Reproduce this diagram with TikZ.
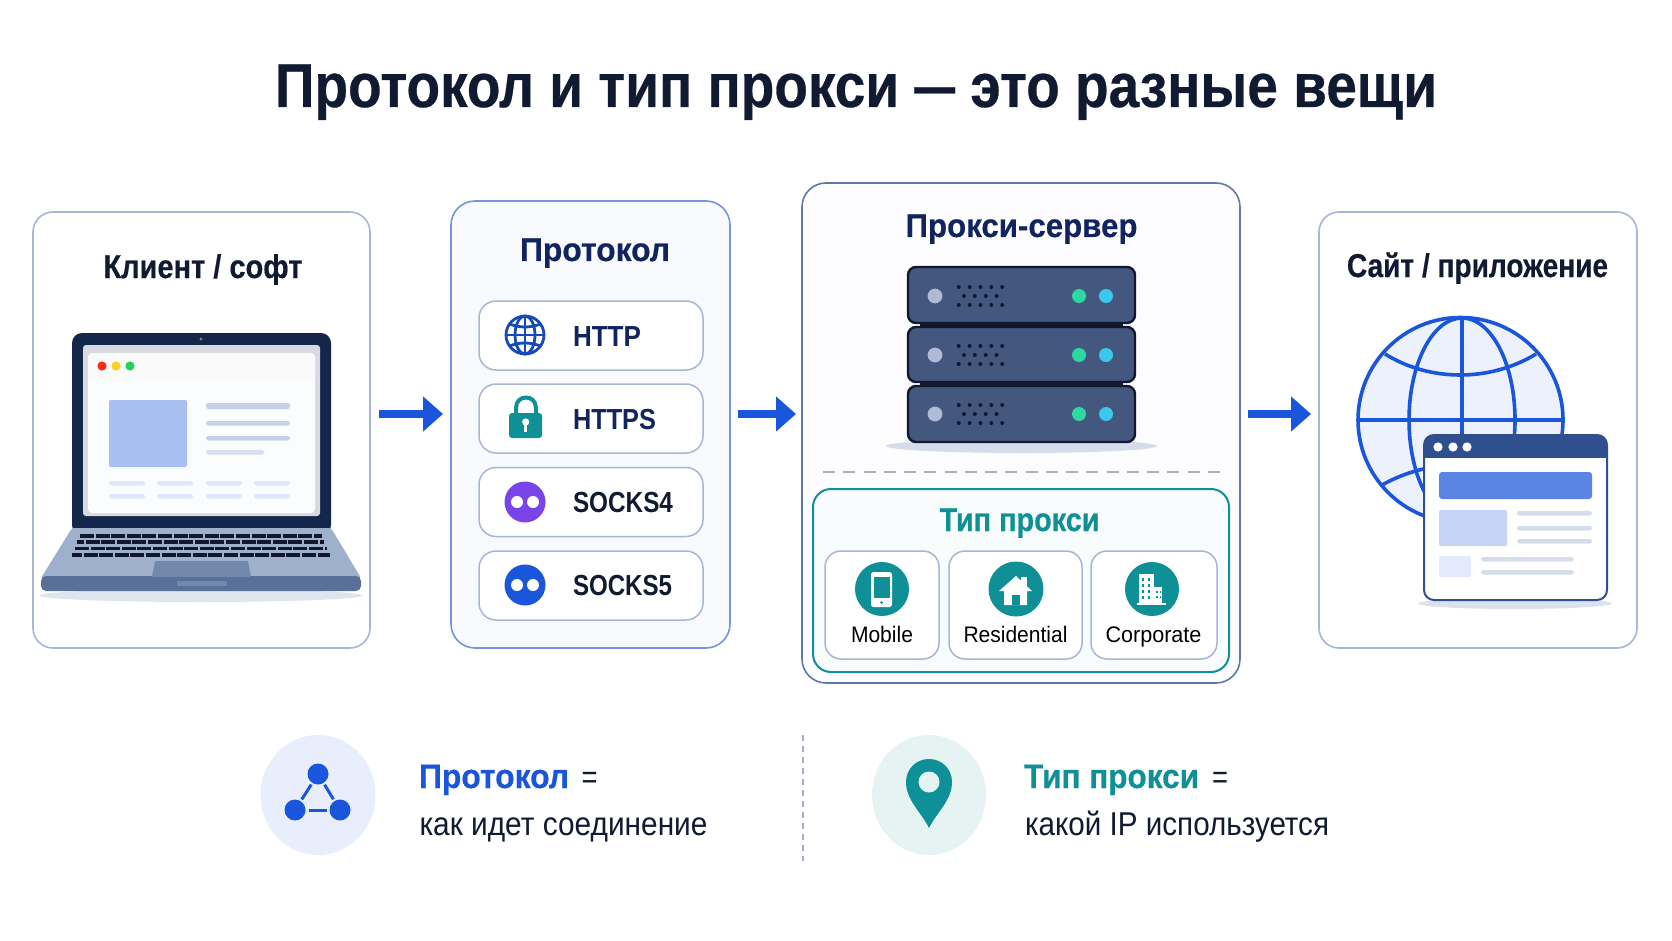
\documentclass[tikz,border=0pt]{standalone}
\usepackage{fontspec}
\usepackage{graphicx}
\setmainfont{Liberation Sans}
\usetikzlibrary{arrows.meta,shapes.geometric}
\definecolor{ink}{HTML}{101A30}
\definecolor{navy}{HTML}{12245F}
\definecolor{blue}{HTML}{1A56DB}
\definecolor{teal}{HTML}{0F8F96}
\definecolor{edge}{HTML}{A8B6D6}
\definecolor{lid}{HTML}{14264A}
\definecolor{rack}{HTML}{44587F}
\definecolor{rackdark}{HTML}{11182E}
\definecolor{deck}{HTML}{9FB0CC}
\definecolor{deckdark}{HTML}{5A7099}
\definecolor{pad}{HTML}{7288AD}
\definecolor{winbar}{HTML}{2F4F8F}
\definecolor{skelline}{HTML}{D5DCEA}
\definecolor{ledgreen}{HTML}{2FD8A0}
\definecolor{ledcyan}{HTML}{3CC8EE}
\definecolor{ledgrey}{HTML}{B0BAD6}
\definecolor{socksviolet}{HTML}{7A45E8}
\newcommand\hv{\bfseries\addfontfeature{FakeBold=0.5}}
% Text of a given size, stretched sideways to a set width.
\newcommand\lbl[7]{\node[inner sep=0pt,anchor=base,text=#1,font=\fontsize{#6}{#6}\selectfont#2] (#3) at (#4) {\resizebox{#5pt}{\height}{#7}};}
\tikzset{
  x=1pt,y=-1pt,
  card/.style={draw=edge,line width=1.6pt,rounded corners=20pt,fill=white,inner sep=0pt,outer sep=0pt},
  rowbox/.style={draw=edge,line width=1.5pt,rounded corners=17pt,fill=white,inner sep=0pt,outer sep=0pt,minimum width=224pt,minimum height=69pt},
  typebox/.style={draw=edge,line width=1.5pt,rounded corners=16pt,fill=white,inner sep=0pt,outer sep=0pt,minimum height=108pt},
  flow/.style={draw=blue,line width=8pt,-{Triangle[length=20pt,width=34pt]}},
  bubble/.style={circle,inner sep=0pt,outer sep=0pt},
  hub/.style={bubble,fill=blue,minimum size=21pt},
  link/.style={draw=blue,line width=3pt},
  skel/.style={fill=#1,rounded corners=1.8pt},
  led/.style={fill=#1},
  hole/.style={fill=rackdark},
  keyrow/.style={draw=rackdark,line width=3.8pt,dash pattern=on 14pt off 1.6pt},
}
\begin{document}
\begin{tikzpicture}
\useasboundingbox (0,0) rectangle (1672,941);
\fill[white] (0,0) rectangle (1672,941);

% heading, with a shortened dash
\lbl{ink}{\hv}{heading}{856,107}{1162}{62}{Протокол и тип прокси \resizebox{46pt}{\height}{—} это разные вещи}

% outer cards
\node[card,minimum width=337pt,minimum height=436pt] (client) at (201.5,430) {};
\node[card,draw=blue!35!edge,fill=blue!3,rounded corners=24pt,minimum width=279pt,minimum height=447pt] (proto) at (590.5,424.5) {};
\node[card,draw=winbar!60!edge,fill=blue!1,rounded corners=24pt,minimum width=438pt,minimum height=500pt] (proxy) at (1021,433) {};
\node[card,minimum width=318pt,minimum height=436pt] (site) at (1478,430) {};

% flow arrows
\draw[flow,shorten <=9pt,shorten >=8pt] ([yshift=16pt]client.east) -- ([yshift=16pt]client.east -| proto.west);
\draw[flow,shorten <=8pt,shorten >=6pt] ([yshift=10.5pt]proto.east) -- ([yshift=10.5pt]proto.east -| proxy.west);
\draw[flow,shorten <=8pt,shorten >=8pt] ([yshift=19pt]proxy.east) -- ([yshift=19pt]proxy.east -| site.west);

% client card
\lbl{ink}{\hv}{clienttitle}{203,278}{199}{33}{Клиент / софт}
\fill[skelline!75!white] (201,595.5) ellipse[x radius=161.5pt,y radius=6.5pt];
\fill[lid,rounded corners=10pt] (72,535) -- (72,333) -- (331,333) -- (331,535) -- cycle;
\fill[blue!15!gray!28!white,rounded corners=3pt] (83,345) rectangle (320,516);
\fill[blue!2,rounded corners=4pt] (88,353) rectangle (315,513);
\fill[blue!9!gray!4!white,rounded corners=4pt] (88,353) rectangle (315,380);
\fill[gray] (201,339) circle[radius=1.6pt];
\fill[red!85!orange!90!white] (102,366) circle[radius=4.6pt];
\fill[yellow!65!orange!90!white] (116,366) circle[radius=4.6pt];
\fill[green!55!teal!90!white] (130,366) circle[radius=4.6pt];
\fill[blue!38!white,rounded corners=2pt] (109,400) rectangle (187,467);
\fill[skel=gray!40!blue!30] (206,403) rectangle (290,409);
\fill[skel=gray!40!blue!30] (206,421) rectangle (290,425.5);
\fill[skel=gray!40!blue!30] (206,436) rectangle (290,440.5);
\fill[skel=gray!40!blue!22] (206,450) rectangle (264,454.5);
\foreach \xa/\xb in {109/145,157/193,206/242,254/290}{
  \fill[skel=blue!14] (\xa,481) rectangle (\xb,485.5);
  \fill[skel=blue!14] (\xa,494) rectangle (\xb,498.5);
}
% laptop base and keyboard
\fill[deck,rounded corners=2pt] (72,528) -- (331,528) -- (361,578) -- (41,578) -- cycle;
\fill[deckdark,rounded corners=5pt] (41,576) rectangle (361,591);
\fill[pad] (177,581) rectangle (227,586);
\draw[keyrow] (80,536) -- (322,536);
\draw[keyrow,dash phase=7pt] (77,542) -- (324,542);
\draw[keyrow] (75,548.5) -- (327,548.5);
\draw[keyrow,dash phase=4pt] (72,555) -- (330,555);
\fill[pad,rounded corners=1pt] (155,561) -- (248,561) -- (251,577) -- (152,577) -- cycle;

% protocol card
\lbl{navy}{\hv}{prototitle}{595,261}{150}{33}{Протокол}
\node[rowbox] (r1) at (591,335.5) {};
\node[rowbox] (r2) at (591,418.5) {};
\node[rowbox] (r3) at (591,502) {};
\node[rowbox] (r4) at (591,585.5) {};
\begin{scope}[draw=blue!85!black,line width=2.8pt]
  \draw (525,335) circle[radius=19pt];
  \draw (525,335) ellipse[x radius=10pt,y radius=19pt];
  \draw (525,316) -- (525,354);
  \draw (506,335) -- (544,335);
  \draw (509.5,324) .. controls (520,328) and (530,328) .. (540.5,324);
  \draw (509.5,346) .. controls (520,342) and (530,342) .. (540.5,346);
\end{scope}
\draw[teal,line width=4pt] (516,415) -- (516,408) .. controls (516,394) and (536,394) .. (536,408) -- (536,415);
\fill[teal,rounded corners=3pt] (509,413) rectangle (542,438);
\fill[white] (525.7,422) circle[radius=3.6pt];
\fill[white] (524,422) rectangle (527.4,432);
\node[bubble,fill=socksviolet,minimum size=41pt] (s4) at (525,502) {};
\fill[white] (517,502) circle[radius=6pt] (533,502) circle[radius=6pt];
\node[bubble,fill=blue,minimum size=41pt] (s5) at (525,585) {};
\fill[white] (517,585) circle[radius=6pt] (533,585) circle[radius=6pt];
\lbl{navy}{\bfseries}{http}{607,346}{68}{29}{HTTP}
\lbl{navy}{\bfseries}{https}{614.5,429}{83}{29}{HTTPS}
\lbl{ink}{\bfseries}{socksfour}{623,512}{100}{29}{SOCKS4}
\lbl{ink}{\bfseries}{socksfive}{622.5,595}{99}{29}{SOCKS5}

% proxy server card
\lbl{navy}{\hv}{proxytitle}{1021.5,237}{232}{33}{Прокси-сервер}
\fill[skelline] (1021.5,446) ellipse[x radius=135.5pt,y radius=7pt];
\fill[rackdark] (920,318) rectangle (1123,392);
\foreach \yt/\yb/\yc in {267/323/296,327/382/355,386/442/414}{
  \draw[rackdark,fill=rack,line width=2.4pt,rounded corners=8pt] (908,\yt) rectangle (1135,\yb);
  \fill[ledgrey] (935,\yc) circle[radius=7.4pt];
  \fill[led=ledgreen] (1079,\yc) circle[radius=7pt];
  \fill[led=ledcyan] (1106,\yc) circle[radius=7pt];
  \foreach \dx in {958.7,969.6,980.4,991.3,1002.2}{
    \fill[hole] (\dx,\yc-9) circle[radius=2pt];
    \fill[hole] (\dx,\yc+9) circle[radius=2pt];
  }
  \foreach \dx in {964,974.8,985.7,996.6}{
    \fill[hole] (\dx,\yc) circle[radius=2pt];
  }
}
\draw[blue!12!gray!60!white,line width=1.6pt,dash pattern=on 12pt off 8.26pt] (823,472) -- (1220,472);

% proxy type panel
\node[card,draw=teal,fill=teal!3,rounded corners=18pt,line width=2pt,minimum width=416pt,minimum height=183pt] (types) at (1021,580.5) {};
\lbl{teal}{\hv}{typetitle}{1019.5,531}{160}{33}{Тип прокси}
\node[typebox,minimum width=114pt] (tmobile) at (882,605) {};
\node[typebox,minimum width=133pt] (tresid) at (1015.5,605) {};
\node[typebox,minimum width=126pt] (tcorp) at (1154,605) {};
\node[bubble,fill=teal,minimum size=54pt] (imobile) at (882,589) {};
\node[bubble,fill=teal,minimum size=55pt] (iresid) at (1016,589) {};
\node[bubble,fill=teal,minimum size=54pt] (icorp) at (1152,589) {};
% phone
\fill[white,rounded corners=2.5pt] (871,572) rectangle (892,607);
\fill[teal] (873.5,577) rectangle (889.5,598);
\fill[teal] (881.5,602.5) circle[radius=1.5pt];
% house
\fill[white] (1021,577) rectangle (1026.5,587);
\fill[white] (1016,576) -- (1032,591) -- (1027,591) -- (1027,605) -- (1004,605) -- (1004,591) -- (999,591) -- cycle;
\fill[teal] (1012,595) rectangle (1020,605);
% office blocks
\fill[white] (1139,574) rectangle (1154,604);
\fill[white] (1154,587) rectangle (1162,604);
\fill[white] (1137,603) rectangle (1166,605);
\foreach \wy in {578,584,590,596}{
  \fill[teal] (1142,\wy) rectangle +(2.4,2.6);
  \fill[teal] (1148,\wy) rectangle +(2.4,2.6);
}
\foreach \wy in {591,596}{
  \fill[teal] (1156,\wy) rectangle +(2,2.4);
  \fill[teal] (1159.6,\wy) rectangle +(1.4,2.4);
}
\lbl{black}{}{mobile}{882,642}{62}{22.5}{Mobile}
\lbl{black}{}{resid}{1015.5,642}{104}{22.5}{Residential}
\lbl{black}{}{corp}{1153.5,642}{96}{22.5}{Corporate}

% site card
\lbl{ink}{\hv}{sitetitle}{1477.5,277}{261}{33}{Сайт / приложение}
\fill[blue!8,draw=blue,line width=3.6pt] (1460.5,420) circle[radius=102.5pt];
\begin{scope}[draw=blue,line width=3.6pt]
  \draw (1462,420) ellipse[x radius=53pt,y radius=102pt];
  \draw (1462,318) -- (1462,522);
  \draw (1358,420) -- (1563,420);
  \draw (1385,354) .. controls (1430,382) and (1490,382) .. (1536,354);
  \draw (1382,485) .. controls (1430,458) and (1490,458) .. (1538,485);
\end{scope}
\fill[skelline!85!white] (1515,603.5) ellipse[x radius=97pt,y radius=5.5pt];
\draw[winbar,line width=2pt,fill=white,rounded corners=10pt] (1424,435) rectangle (1607,600);
\fill[winbar,rounded corners=8pt] (1424,435) rectangle (1607,450);
\fill[winbar] (1424,443) rectangle (1607,458);
\fill[white] (1438,447) circle[radius=4.6pt] (1453,447) circle[radius=4.6pt] (1467,447) circle[radius=4.6pt];
\fill[blue!72!white,rounded corners=3pt] (1439,472) rectangle (1592,499);
\fill[blue!25,rounded corners=2pt] (1439,510) rectangle (1507,546);
\fill[skel=skelline] (1517,511) rectangle (1592,515.5);
\fill[skel=skelline] (1517,526) rectangle (1592,530.5);
\fill[skel=skelline] (1517,539) rectangle (1592,543.5);
\fill[blue!12,rounded corners=2pt] (1439,556) rectangle (1471,577);
\fill[skel=skelline] (1481,557) rectangle (1574,561.5);
\fill[skel=skelline] (1481,570) rectangle (1574,574.5);

% legend
\node[ellipse,fill=blue!10,inner sep=0pt,minimum width=115pt,minimum height=120pt] (protobg) at (318,795) {};
\node[hub] (na) at (318,774) {};
\node[hub] (nb) at (295,810) {};
\node[hub] (nc) at (340,810) {};
\draw[link,shorten <=2pt,shorten >=2pt] (na) -- (nb);
\draw[link,shorten <=2pt,shorten >=2pt] (na) -- (nc);
\draw[link,shorten <=3pt,shorten >=3pt] (nb) -- (nc);
\lbl{blue}{\hv}{lega}{494,788}{150}{34}{Протокол}
\lbl{ink}{}{legaeq}{589.5,788}{16}{33}{=}
\lbl{ink}{}{legb}{563.5,835}{288}{33}{как идет соединение}
\draw[blue!25!gray!60!white,line width=1.5pt,dash pattern=on 6pt off 5pt] (803,735) -- (803,861);
\node[ellipse,fill=teal!11,inner sep=0pt,minimum width=114pt,minimum height=120pt] (typebg) at (929,795) {};
\fill[teal] (929,828) .. controls (921,812) and (906,800) .. (906,782) .. controls (906,769) and (916,759) .. (929,759) .. controls (942,759) and (952,769) .. (952,782) .. controls (952,800) and (937,812) .. (929,828) -- cycle;
\fill[teal!11!white] (929,782) circle[radius=10.5pt];
\lbl{teal}{\hv}{legc}{1111.5,788}{175}{34}{Тип прокси}
\lbl{ink}{}{legceq}{1220,788}{16}{33}{=}
\lbl{ink}{}{legd}{1177,835}{304}{33}{какой IP используется}
\end{tikzpicture}
\end{document}
